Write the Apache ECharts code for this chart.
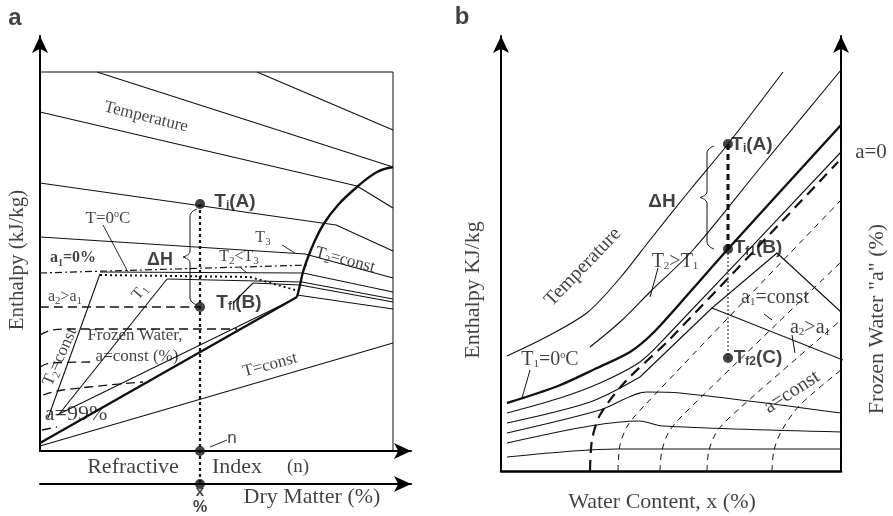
<!DOCTYPE html>
<html>
<head>
<meta charset="utf-8">
<title>Enthalpy diagrams a / b</title>
<script src="https://cdn.jsdelivr.net/npm/echarts@6/dist/echarts.min.js"></script>
<style>
  html, body { margin: 0; background: #fff; }
  #chart { width: 893px; height: 516px; }
</style>
</head>
<body>
<div id="chart"></div>
<script>
// ---- panel a : enthalpy vs refractive index (schematic units, origin at the axis corner)
var aBoxTop = [[0, 379], [353, 379]];
var aBoxRight = [[353, 379], [353, 0]];
var aTemp1 = [[57, 379], [353, 284]];
var aTemp2 = [[217, 379], [353, 321]];
var aTemp3 = [[0, 339], [317, 265], [353, 243]];
var aTemp4 = [[0, 268], [296, 226], [353, 200]];
var aTemp5 = [[0, 214], [265, 197], [353, 173]];
var aIce1 = [[60, 179], [263, 178], [353, 159]];
var aIce2 = [[127, 172], [262, 169], [353, 152]];
var aIce3 = [[213, 168], [260, 166], [353, 149]];
var aIce4 = [[257, 156], [353, 142]];
var aDotted = [[60, 176], [210, 174], [255, 161]];
var aFreezeLine = [[0, 8], [257, 154]];
var aFreezeCurve = [[257, 154], [260, 166], [263, 179], [267, 191], [273, 206], [283, 226], [298, 246], [317, 264], [337, 279], [353, 284]];
var aTconst = [[0, 5], [353, 108]];
var aZeroIce = [[0, 178], [270, 186]];
var aT2 = [[8, 33], [60, 177]];
var aT1 = [[20, 38], [127, 172]];
var a99 = [[17, 36], [252, 151]];
var aShort = [[193, 148], [213, 168]];
var aFrozen = [
  [[0, 144], [160, 144]],
  [[0, 116], [12, 121], [30, 122], [197, 122]],
  [[0, 84], [10, 88], [55, 89]],
  [[3, 56], [23, 61], [103, 69]],
  [[2, 21], [17, 24]]
];
var aLeaders = [[[63, 226], [88, 179]], [[242, 206], [255, 198]], [[200, 184], [207, 178]], [[170, 4], [187, 11]]];
var aRead = [[160, 247], [160, -33]];
var aPoints = [[160, 247], [160, 144], [160, 0], [160, -33]];

// ---- panel b : enthalpy vs water content
var bTemp1 = [[6, 115], [49, 136], [87, 159], [119, 193], [149, 231], [189, 281], [227, 327], [282, 399]];
var bTemp2 = [[89, 124], [119, 149], [149, 179], [192, 221], [259, 303], [340, 401]];
var bT0 = [[6, 68], [57, 85], [96, 103], [129, 119], [152, 138], [189, 179], [227, 222], [340, 346]];
var bIce1 = [[6, 58], [59, 73], [99, 88], [139, 109], [164, 133], [340, 319]];
var bIce2Rise = [[6, 48], [89, 69], [139, 94]];
var bIce2Peak = [[139, 94], [211, 163], [342, 111]];
var bIce3 = [[211, 163], [276, 218], [340, 159]];
var bIce4 = [[6, 38], [99, 61], [146, 79], [179, 78], [340, 58]];
var bIce5 = [[6, 28], [89, 45], [139, 50], [161, 45], [340, 39]];
var bIce6 = [[6, 14], [116, 22], [340, 22]];
var bZeroIce = [[89, 0], [91, 31], [99, 56], [124, 89], [169, 132], [337, 309]];
var bConst = [
  [[117, 0], [119, 26], [127, 46], [144, 66], [340, 271]],
  [[159, 0], [161, 21], [169, 41], [189, 63], [340, 209]],
  [[206, 0], [208, 21], [217, 41], [239, 63], [340, 151]],
  [[271, 0], [273, 21], [281, 41], [299, 66], [340, 101]]
];
var bLeaders = [[[157, 203], [149, 174]], [[29, 101], [21, 73]], [[263, 157], [271, 151]], [[291, 136], [294, 118]], [[341, 311], [348, 311]]];
var bRead1 = [[227, 327], [227, 222]];
var bRead2 = [[227, 222], [227, 113]];
var bPoints = [[227, 327], [227, 222], [227, 113]];

var serif = '"Liberation Serif", "DejaVu Serif", serif';
var sans = '"Liberation Sans", Arial, sans-serif';
var bold = { fontFamily: sans, fontWeight: 'bold', fontSize: 19 };

var aLabels = [
  [106, 334, 'Temperature', -14, { fontSize: 17 }],
  [68, 232, 'T=0{sup|o}C', 0, { fontSize: 17 }],
  [33, 193, 'a{sb|1}=0%', 0, { fontWeight: 'bold', fontSize: 16 }],
  [120, 191, 'ΔH', 0, { fontFamily: sans, fontWeight: 'bold', fontSize: 18 }],
  [223, 213, 'T{s|3}', 0],
  [199, 194, 'T{s|2}<T{s|3}', 0],
  [305, 191, 'T{s|2}=const', -15, { fontSize: 17 }],
  [25, 154, 'a{s|2}>a{s|1}', 0],
  [100, 159, 'T{s|1}', 50],
  [20, 94, 'T{s|2}=const', 66, { fontSize: 17 }],
  [95, 115, 'Frozen Water,', 0, { fontSize: 17 }],
  [97, 94, 'a=const (%)', 0, { fontSize: 17 }],
  [230, 86, 'T=const', 15, { fontSize: 17 }],
  [36, 37, 'a=99%', 0, { fontSize: 22 }],
  [192, 13, 'n', 0, { fontFamily: sans, fontSize: 17 }],
  [93, -16, 'Refractive', 0, { fontSize: 22 }],
  [197, -16, 'Index', 0, { fontSize: 22 }],
  [258, -16, '(n)', 0, { fontSize: 19 }],
  [272, -46, 'Dry Matter (%)', 0, { fontSize: 22 }],
  [160, -41, 'x', 0, { fontFamily: sans, fontWeight: 'bold', fontSize: 15 }],
  [160, -57, '%', 0, { fontFamily: sans, fontWeight: 'bold', fontSize: 16 }],
  [195, 249, 'T{bs|i}(A)', 0, bold],
  [199, 148, 'T{bs|fl}(B)', 0, bold],
  [-25, 433, 'a', 0, { fontFamily: sans, fontWeight: 'bold', fontSize: 24 }],
  [-23, 191, 'Enthalpy (kJ/kg)', 90, { fontSize: 21 }]
];

var bLabels = [
  [82, 204, 'Temperature', 46, { fontSize: 20 }],
  [174, 209, 'T{s|2}>T{s|1}', 0, { fontSize: 20 }],
  [49, 111, 'T{s|1}=0{sup|o}C', 0, { fontSize: 20 }],
  [251, 326, 'T{bs|i}(A)', 0, bold],
  [257, 223, 'T{bs|f1}(B)', 0, bold],
  [257, 113, 'T{bs|f2}(C)', 0, bold],
  [161, 269, 'ΔH', 0, { fontFamily: sans, fontWeight: 'bold', fontSize: 19 }],
  [274, 173, 'a{s|1}=const', 0, { fontSize: 20 }],
  [309, 143, 'a{s|2}>a{s|1}', 0, { fontSize: 20 }],
  [291, 79, 'a=const', 33, { fontSize: 20 }],
  [370, 319, 'a=0', 0, { fontSize: 21 }],
  [-39, 454, 'b', 0, { fontFamily: sans, fontWeight: 'bold', fontSize: 24 }],
  [-28, 181, 'Enthalpy KJ/kg', 90, { fontSize: 22 }],
  [161, -31, 'Water Content, x (%)', 0, { fontSize: 22 }],
  [376, 152, 'Frozen Water "a" (%)', 90, { fontSize: 22 }]
];

var rich = {
  s: { fontSize: 11, fontFamily: serif, verticalAlign: 'bottom', lineHeight: 10 },
  sb: { fontSize: 10, fontFamily: serif, fontWeight: 'bold', verticalAlign: 'bottom', lineHeight: 10 },
  sup: { fontSize: 10, fontFamily: serif, verticalAlign: 'top', lineHeight: 10 },
  bs: { fontSize: 12, fontFamily: sans, fontWeight: 'bold', verticalAlign: 'bottom', lineHeight: 11 }
};

var series = [];

function addLine(g, pts, w, dash, smooth) {
  series.push({
    type: 'line', xAxisIndex: g ? 2 : 0, yAxisIndex: g ? 1 : 0,
    data: pts, symbol: 'none', smooth: smooth || false, clip: false, silent: true,
    lineStyle: { color: '#111', width: w, type: dash || 'solid' }
  });
}

// curly brace "{" between two heights, tip pointing left
function addBrace(g, x, yTop, yBot, w) {
  var mid = (yTop + yBot) / 2;
  addLine(g, [[x + w, yTop], [x, yTop - 7], [x, mid + 6], [x - w, mid]], 1, 'solid', 0.5);
  addLine(g, [[x - w, mid], [x, mid - 6], [x, yBot + 7], [x + w, yBot]], 1, 'solid', 0.5);
}

function addText(g, list) {
  series.push({
    type: 'scatter', xAxisIndex: g ? 2 : 0, yAxisIndex: g ? 1 : 0,
    symbolSize: 0, clip: false, silent: true, z: 5,
    label: { show: true, position: 'inside', color: '#111', fontFamily: serif, fontSize: 16, lineHeight: 20, rich: rich },
    data: list.map(function (t) {
      return { value: [t[0], t[1]], label: Object.assign({ formatter: t[2], rotate: t[3] }, t[4] || {}) };
    })
  });
}

function addDots(g, pts) {
  series.push({
    type: 'scatter', xAxisIndex: g ? 2 : 0, yAxisIndex: g ? 1 : 0,
    data: pts, symbolSize: 10, clip: false, silent: true, itemStyle: { color: '#111' }
  });
}

// panel a
addLine(0, aBoxTop, 1, 'solid');
addLine(0, aBoxRight, 1, 'solid');
[aTemp1, aTemp2, aTemp3, aTemp4, aTemp5, aIce1, aIce2, aIce3, aIce4, aTconst, aT2, aT1, a99, aShort].forEach(function (p) { addLine(0, p, 1.1); });
aLeaders.forEach(function (p) { addLine(0, p, 0.9); });
addLine(0, aDotted, 2, [2, 3]);
addLine(0, aFreezeLine, 2.4);
addLine(0, aFreezeCurve, 2.4, 'solid', 0.4);
addLine(0, aZeroIce, 1.2, [7, 3, 2, 3]);
aFrozen.forEach(function (p) { addLine(0, p, 1.3, [9, 5], 0.4); });
addLine(0, aRead, 2.2, [3, 3]);
addBrace(0, 150, 242, 146, 7);
addDots(0, aPoints);
addText(0, aLabels);

// panel b
addLine(1, bTemp1, 1.1, 'solid', 0.3);
addLine(1, bTemp2, 1.1, 'solid', 0.3);
addLine(1, bT0, 2.4, 'solid', 0.3);
[bIce1, bIce2Rise, bIce4, bIce5, bIce6].forEach(function (p) { addLine(1, p, 1.1, 'solid', 0.3); });
[bIce2Peak, bIce3].forEach(function (p) { addLine(1, p, 1.1); });
addLine(1, bZeroIce, 2.2, [11, 7], 0.3);
bConst.forEach(function (p) { addLine(1, p, 1, [6, 5], 0.3); });
bLeaders.forEach(function (p) { addLine(1, p, 1); });
addLine(1, bRead1, 3, [6, 4]);
addLine(1, bRead2, 1, [2, 2]);
addBrace(1, 206, 325, 222, 7);
addDots(1, bPoints);
addText(1, bLabels);

function axis(extra) {
  return Object.assign({
    type: 'value', axisTick: { show: false }, axisLabel: { show: false }, splitLine: { show: false },
    axisLine: { show: true, symbol: ['none', 'arrow'], symbolSize: [12, 17], lineStyle: { color: '#000', width: 2 } }
  }, extra);
}

var myChart = echarts.init(document.getElementById('chart'));
myChart.setOption({
  animation: false,
  backgroundColor: '#fff',
  grid: [
    { left: 40, top: 36, right: 482, bottom: 65 },
    { left: 501, top: 36, right: 52, bottom: 45 }
  ],
  xAxis: [
    axis({ gridIndex: 0, min: 0, max: 371 }),
    axis({ gridIndex: 0, min: 0, max: 371, position: 'bottom', offset: 33,
      axisLine: { show: true, onZero: false, symbol: ['none', 'arrow'], symbolSize: [12, 17], lineStyle: { color: '#000', width: 2 } } }),
    axis({ gridIndex: 1, min: 0, max: 340,
      axisLine: { show: true, lineStyle: { color: '#000', width: 2.5 } } })
  ],
  yAxis: [
    axis({ gridIndex: 0, min: 0, max: 415 }),
    axis({ gridIndex: 1, min: 0, max: 435 }),
    axis({ gridIndex: 1, min: 0, max: 435, position: 'right',
      axisLine: { show: true, onZero: false, symbol: ['none', 'arrow'], symbolSize: [12, 17], lineStyle: { color: '#000', width: 2 } } })
  ],
  series: series
});
</script>
</body>
</html>
